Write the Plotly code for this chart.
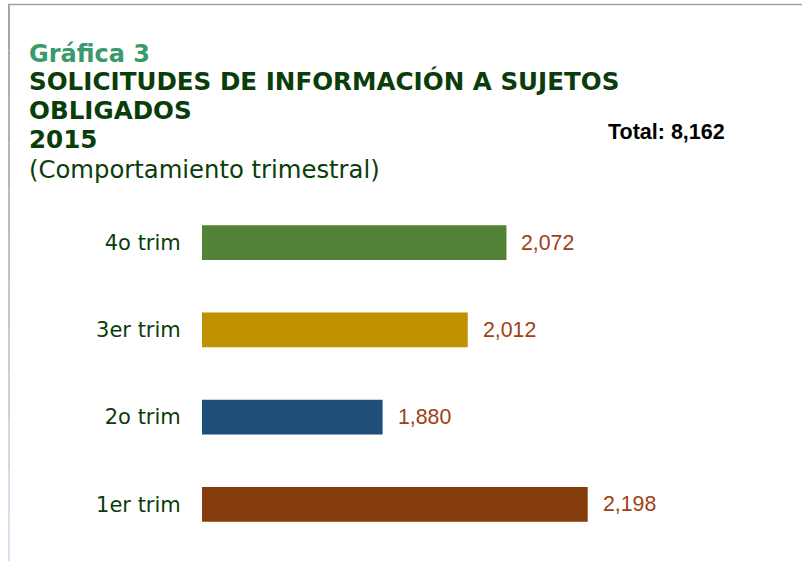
import plotly.graph_objects as go

# ---- data ----
categories = ["1er trim", "2o trim", "3er trim", "4o trim"]
values = [2198, 1880, 2012, 2072]
bar_colors = ["#843c0c", "#1f4e79", "#bf9000", "#538135"]
value_labels = ["2,198", "1,880", "2,012", "2,072"]
total_label = "Total: 8,162"
title_kicker = "Gráfica 3"
title_lines = ["SOLICITUDES DE INFORMACIÓN A SUJETOS", "OBLIGADOS", "2015"]
subtitle = "(Comportamiento trimestral)"

W, H = 802, 561
L, R, T, B = 202, 84, 199, 13
PW, PH = W - L - R, H - T - B


def px(xp):
    return (xp - L) / PW


def py(yp):
    return (H - B - yp) / PH


fig = go.Figure()
fig.add_trace(go.Bar(
    y=categories, x=values, orientation="h",
    marker=dict(color=bar_colors, line=dict(width=0)),
    width=0.4, hoverinfo="skip",
))

annotations = []
for c, v, lab in zip(categories, values, value_labels):
    annotations.append(dict(
        x=v, y=c, xref="x", yref="y", text=lab, showarrow=False,
        xanchor="left", yanchor="middle", xshift=13,
        font=dict(family="Liberation Sans, Arial", size=21.3, color="#9e4014"),
    ))

title_font_bold = "DejaVu Sans, Verdana"
annotations.append(dict(
    x=px(27), y=py(53.5), xref="paper", yref="paper", text="<b>" + title_kicker + "</b>",
    showarrow=False, xanchor="left", yanchor="middle",
    font=dict(family=title_font_bold, size=24, color="#3a9a6c"),
))
for i, line in enumerate(title_lines):
    annotations.append(dict(
        x=px(27), y=py(81.5 + 29 * i), xref="paper", yref="paper", text="<b>" + line + "</b>",
        showarrow=False, xanchor="left", yanchor="middle",
        font=dict(family=title_font_bold, size=24.6, color="#0a3d0a"),
    ))
annotations.append(dict(
    x=px(27), y=py(170), xref="paper", yref="paper", text=subtitle,
    showarrow=False, xanchor="left", yanchor="middle",
    font=dict(family="DejaVu Sans, Verdana", size=24.3, color="#0a3d0a"),
))
annotations.append(dict(
    x=px(606), y=py(132), xref="paper", yref="paper", text="<b>" + total_label + "</b>",
    showarrow=False, xanchor="left", yanchor="middle",
    font=dict(family="Liberation Sans, Arial", size=21.5, color="#000000"),
))

# frame lines (top gray, left gray fading to light blue)
shapes = [dict(type="line", xref="paper", yref="paper",
               x0=px(8), x1=px(802), y0=py(4.5), y1=py(4.5),
               line=dict(color="#a3a3a3", width=1.6))]
n = 12
c0 = (166, 166, 166)
c1 = (214, 228, 242)
for k in range(n):
    t = k / (n - 1)
    col = tuple(round(c0[j] + (c1[j] - c0[j]) * t) for j in range(3))
    y0 = 4 + (561 - 4) * k / n
    y1 = 4 + (561 - 4) * (k + 1) / n
    shapes.append(dict(type="line", xref="paper", yref="paper",
                       x0=px(9), x1=px(9), y0=py(y0), y1=py(y1),
                       line=dict(color="rgb(%d,%d,%d)" % col, width=2)))

fig.update_layout(
    width=W, height=H,
    margin=dict(l=L, r=R, t=T, b=B),
    paper_bgcolor="white", plot_bgcolor="white",
    showlegend=False,
    xaxis=dict(range=[1600, 2400], visible=False, fixedrange=True),
    yaxis=dict(
        categoryorder="array", categoryarray=categories,
        range=[-0.5, 3.5], fixedrange=True,
        showgrid=False, zeroline=False, showline=False,
        ticks="outside", ticklen=16, tickcolor="rgba(0,0,0,0)",
        tickfont=dict(family="DejaVu Sans, Verdana", size=21, color="#0a3d0a"),
    ),
    annotations=annotations,
    shapes=shapes,
)

fig.write_html(
    "out.html",
    config={"displayModeBar": False},
    post_script="document.body.style.margin='0px';document.body.style.overflow='hidden';",
)
